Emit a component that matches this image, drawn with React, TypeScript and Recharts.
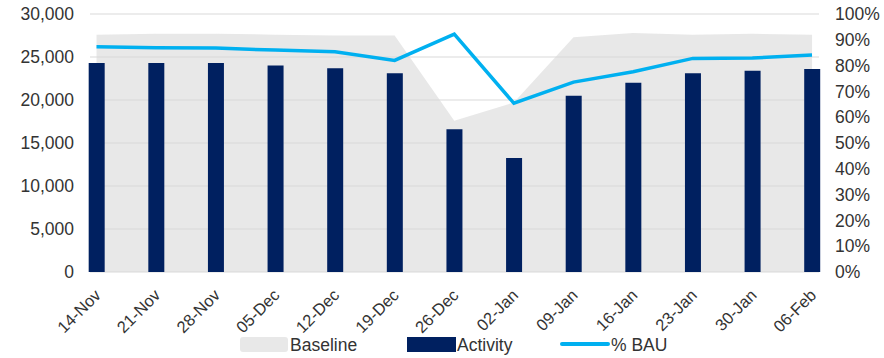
import React from 'react';
import { ComposedChart, Area, Bar, Line, XAxis, YAxis, CartesianGrid } from 'recharts';

const weeks = ['14-Nov', '21-Nov', '28-Nov', '05-Dec', '12-Dec', '19-Dec', '26-Dec', '02-Jan', '09-Jan', '16-Jan', '23-Jan', '30-Jan', '06-Feb'];
const baseline = [27600, 27700, 27700, 27600, 27500, 27500, 17600, 19700, 27300, 27800, 27600, 27700, 27600];
const activity = [24300, 24300, 24300, 24000, 23700, 23100, 16600, 13250, 20500, 22000, 23100, 23400, 23600];
const bau = [87.3, 86.9, 86.8, 86.0, 85.4, 82.0, 92.2, 65.4, 73.6, 77.6, 82.8, 82.9, 84.1];

const leftTicks = [0, 5000, 10000, 15000, 20000, 25000, 30000];
const rightTicks = [0, 10, 20, 30, 40, 50, 60, 70, 80, 90, 100];

const data = weeks.map((w, i) => ({ idx: i, week: w, baseline: baseline[i], activity: activity[i], bau: bau[i] }));

const FONT = '"Liberation Sans", Arial, sans-serif';
const TEXT = '#333333';

const legendText: React.CSSProperties = {
  position: 'absolute',
  top: 335,
  fontSize: 17.5,
  lineHeight: '20px',
  color: TEXT,
  fontFamily: FONT,
};

export default function App() {
  return (
    <div style={{ position: 'absolute', left: 0, top: 0, width: 884, height: 358, background: '#fff' }}>
      <ComposedChart width={884} height={358} data={data} margin={{ top: 14, right: 0, bottom: 0, left: 0 }}>
        <CartesianGrid yAxisId="left" vertical={false} stroke="#d9d9d9" strokeWidth={1.2} />
        <XAxis
          dataKey="idx"
          type="number"
          domain={[-0.109, 12.117]}
          ticks={weeks.map((_, i) => i)}
          tickFormatter={(v: number) => weeks[v]}
          interval={0}
          axisLine={false}
          tickLine={false}
          tickSize={0}
          tickMargin={16}
          angle={-45}
          textAnchor="end"
          height={86}
          tick={{ fontSize: 16.5, fill: TEXT, fontFamily: FONT, dx: -3 }}
        />
        <YAxis
          yAxisId="left"
          domain={[0, 30000]}
          ticks={leftTicks}
          interval={0}
          tickFormatter={(v: number) => v.toLocaleString('en-US')}
          axisLine={false}
          tickLine={false}
          tickSize={0}
          tickMargin={16}
          width={90}
          tick={{ fontSize: 17.5, fill: TEXT, fontFamily: FONT }}
        />
        <YAxis
          yAxisId="right"
          orientation="right"
          domain={[0, 100]}
          ticks={rightTicks}
          interval={0}
          tickFormatter={(v: number) => `${v}%`}
          axisLine={false}
          tickLine={false}
          tickSize={0}
          tickMargin={16}
          width={65}
          tick={{ fontSize: 17.5, fill: TEXT, fontFamily: FONT, textAnchor: 'start' }}
        />
        <Area
          yAxisId="left"
          type="linear"
          dataKey="baseline"
          name="Baseline"
          fill="#d9d9d9"
          fillOpacity={0.6}
          stroke="none"
          isAnimationActive={false}
        />
        <Bar yAxisId="left" dataKey="activity" name="Activity" fill="#002060" barSize={16} isAnimationActive={false} />
        <Line
          yAxisId="right"
          type="linear"
          dataKey="bau"
          name="% BAU"
          stroke="#00b0f0"
          strokeWidth={3.5}
          dot={false}
          activeDot={false}
          isAnimationActive={false}
        />
      </ComposedChart>

      {/* legend */}
      <div style={{ position: 'absolute', left: 240, top: 337, width: 48, height: 15, background: '#e8e8e8', borderRadius: 3 }} />
      <div style={{ ...legendText, left: 290 }}>Baseline</div>
      <div style={{ position: 'absolute', left: 407, top: 337, width: 49, height: 15, background: '#002060' }} />
      <div style={{ ...legendText, left: 457 }}>Activity</div>
      <div style={{ position: 'absolute', left: 560, top: 342, width: 50, height: 4, background: '#00b0f0', borderRadius: 2 }} />
      <div style={{ ...legendText, left: 611 }}>% BAU</div>
    </div>
  );
}
